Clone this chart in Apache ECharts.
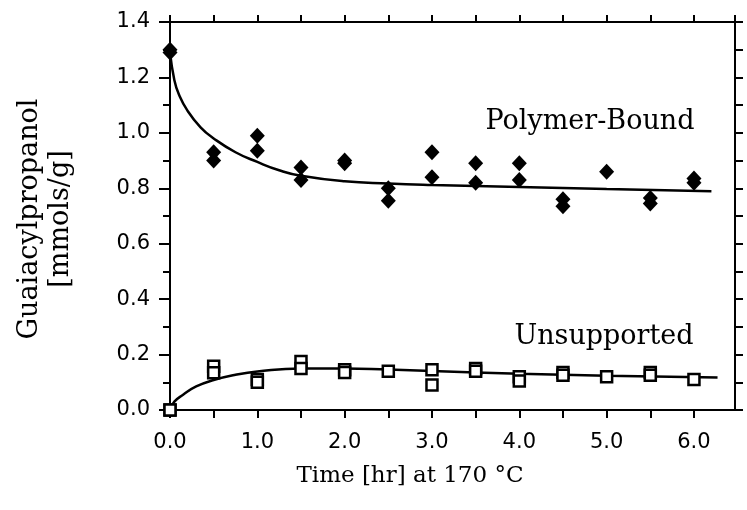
<!DOCTYPE html>
<html>
<head>
<meta charset="utf-8">
<script src="https://cdn.jsdelivr.net/npm/echarts@6/dist/echarts.min.js"></script>
<style>html,body{margin:0;padding:0;background:#fff}#c{width:747px;height:510px}</style>
</head>
<body>
<div id="c"></div>
<script>
// Polymer-bound measurements (filled diamonds)
var polyT = [0, 0, 0.5, 0.5, 1, 1, 1.5, 1.5, 2, 2, 2.5, 2.5, 3, 3, 3.5, 3.5, 4, 4, 4.5, 4.5, 5, 5.5, 5.5, 6, 6];
var polyV = [1.30, 1.29, 0.93, 0.90, 0.99, 0.935, 0.875, 0.83, 0.90, 0.89, 0.80, 0.755, 0.93, 0.84, 0.89, 0.82, 0.89, 0.83, 0.76, 0.735, 0.86, 0.765, 0.745, 0.835, 0.82];
// Unsupported measurements (open squares)
var unsT = [0, 0, 0.5, 0.5, 1, 1, 1.5, 1.5, 2, 2, 2.5, 3, 3, 3.5, 3.5, 4, 4, 4.5, 4.5, 5, 5.5, 5.5, 6];
var unsV = [0.0, 0.0, 0.158, 0.134, 0.11, 0.10, 0.175, 0.15, 0.145, 0.135, 0.14, 0.145, 0.09, 0.15, 0.14, 0.12, 0.105, 0.135, 0.125, 0.12, 0.135, 0.125, 0.11];
// Fitted curves
var polyFitT = [0, 0.05, 0.1, 0.2, 0.35, 0.5, 0.75, 1.0, 1.25, 1.5, 2.0, 2.5, 3.0, 4.0, 5.0, 6.2];
var polyFitV = [1.29, 1.19, 1.14, 1.08, 1.02, 0.98, 0.93, 0.895, 0.865, 0.845, 0.825, 0.817, 0.812, 0.805, 0.797, 0.789];
var unsFitT = [0, 0.05, 0.15, 0.3, 0.5, 0.75, 1.0, 1.5, 2.0, 2.5, 3.0, 4.0, 5.0, 6.27];
var unsFitV = [0, 0.03, 0.055, 0.085, 0.108, 0.127, 0.139, 0.15, 0.15, 0.146, 0.141, 0.131, 0.124, 0.117];
// Texts
var xTitle = 'Time [hr] at 170 °C';
var yTitle = 'Guaiacylpropanol\n[mmols/g]';
var seriesNames = ['Polymer-Bound', 'Unsupported'];

function zip(a, b) { return a.map(function (v, i) { return [v, b[i]]; }); }

var sans = 'DejaVu Sans';
var axisLine = { show: true, onZero: false, lineStyle: { color: '#000', width: 2 } };

var chart = echarts.init(document.getElementById('c'), null, { renderer: 'canvas' });
chart.setOption({
  backgroundColor: '#fff',
  animation: false,
  grid: { left: 170, top: 22, right: 12, bottom: 100, containLabel: false },
  xAxis: [{
    type: 'value', position: 'bottom', min: 0, max: 6.47, interval: 0.5,
    axisLine: axisLine,
    axisTick: { show: true, inside: false, length: 8, lineStyle: { color: '#000', width: 2 } },
    axisLabel: {
      margin: 22, color: '#000', fontFamily: sans, fontSize: 21, showMaxLabel: false,
      formatter: function (v) { return Math.abs(v - Math.round(v)) < 1e-6 ? v.toFixed(1) : ''; }
    },
    splitLine: { show: false }
  }, {
    type: 'value', position: 'top', min: 0, max: 6.47, interval: 0.5,
    axisLine: axisLine,
    axisTick: { show: true, inside: false, length: 7, lineStyle: { color: '#000', width: 2 } },
    axisLabel: { show: false },
    splitLine: { show: false }
  }],
  yAxis: [{
    type: 'value', position: 'left', min: 0, max: 1.4, interval: 0.2,
    axisLine: axisLine,
    axisTick: { show: true, inside: false, length: 11, lineStyle: { color: '#000', width: 2 } },
    minorTick: { show: true, splitNumber: 2, length: 7, lineStyle: { color: '#000', width: 2 } },
    axisLabel: {
      margin: 20, color: '#000', fontFamily: sans, fontSize: 21,
      formatter: function (v) { return v.toFixed(1); }
    },
    splitLine: { show: false }
  }, {
    type: 'value', position: 'right', min: 0, max: 1.4, interval: 0.1,
    axisLine: axisLine,
    axisTick: { show: true, inside: false, length: 8, lineStyle: { color: '#000', width: 2 } },
    axisLabel: { show: false },
    splitLine: { show: false }
  }],
  graphic: [{
    type: 'text', x: 45, y: 219, rotation: Math.PI / 2,
    style: { text: yTitle, font: '27px "DejaVu Serif"', fill: '#000', align: 'center', verticalAlign: 'middle', lineHeight: 31 }
  }, {
    type: 'text', x: 410, y: 476,
    style: { text: xTitle, font: '23px "DejaVu Serif"', fill: '#000', align: 'center', verticalAlign: 'middle' }
  }, {
    type: 'text', x: 590, y: 122,
    style: { text: seriesNames[0], font: '27px "DejaVu Serif"', fill: '#000', align: 'center', verticalAlign: 'middle' }
  }, {
    type: 'text', x: 604, y: 337,
    style: { text: seriesNames[1], font: '27px "DejaVu Serif"', fill: '#000', align: 'center', verticalAlign: 'middle' }
  }],
  series: [{
    name: seriesNames[0] + ' fit', type: 'line', smooth: 0.5, showSymbol: false,
    data: zip(polyFitT, polyFitV), lineStyle: { color: '#000', width: 2.5 }, z: 2
  }, {
    name: seriesNames[1] + ' fit', type: 'line', smooth: 0.5, showSymbol: false,
    data: zip(unsFitT, unsFitV), lineStyle: { color: '#000', width: 2.5 }, z: 2
  }, {
    name: seriesNames[0], type: 'scatter', symbol: 'diamond', symbolSize: [15, 16],
    data: zip(polyT, polyV), itemStyle: { color: '#000', opacity: 1 }, z: 3
  }, {
    name: seriesNames[1], type: 'scatter', symbol: 'rect', symbolSize: 11,
    data: zip(unsT, unsV), itemStyle: { color: '#fff', borderColor: '#000', borderWidth: 2.5, opacity: 1 }, z: 3
  }]
});
</script>
</body>
</html>
